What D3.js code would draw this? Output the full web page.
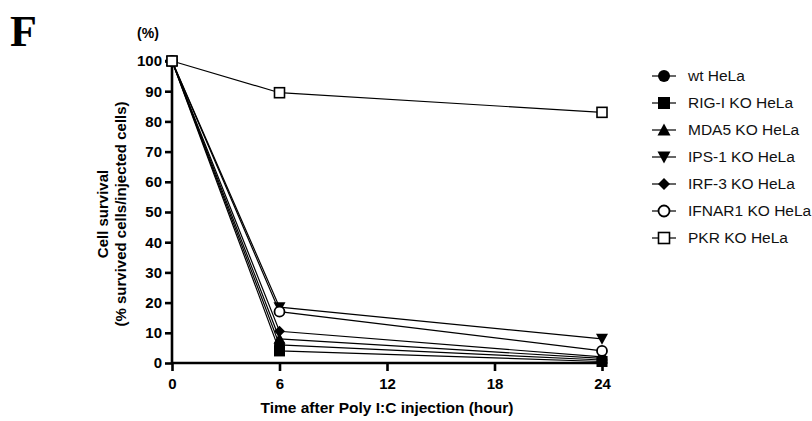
<!DOCTYPE html>
<html><head><meta charset="utf-8">
<script src="https://cdn.jsdelivr.net/npm/d3@7"></script>
<style>body{margin:0;background:#fff}svg{display:block}</style>
</head><body>
<svg id="c" width="812" height="421"></svg>
<script>
const hours = [0, 6, 24];
const seriesNames = ["wt HeLa","RIG-I KO HeLa","MDA5 KO HeLa","IPS-1 KO HeLa","IRF-3 KO HeLa","IFNAR1 KO HeLa","PKR KO HeLa"];
const wt     = [100, 6, 1];
const rigI   = [100, 4, 0.5];
const mda5   = [100, 8, 1.5];
const ips1   = [100, 18.5, 8];
const irf3   = [100, 10.5, 2];
const ifnar1 = [100, 17, 4];
const pkr    = [100, 89.5, 83];
const markers = ["circle","square","triangle","triangleDown","diamond","circleOpen","squareOpen"];
const xTicks = [0, 6, 12, 18, 24];
const yTicks = [0,10,20,30,40,50,60,70,80,90,100];

const allValues = [wt, rigI, mda5, ips1, irf3, ifnar1, pkr];
const svg = d3.select("#c");
const x = d3.scaleLinear().domain([0,24]).range([172,602]);
const y = d3.scaleLinear().domain([0,100]).range([363,61]);
const font = "Arial, 'Liberation Sans', sans-serif";

function drawMarker(g, type, cx, cy, s) {
  s = s || 5.5;
  if (type === "circle") g.append("circle").attr("cx",cx).attr("cy",cy).attr("r",s).attr("fill","#000");
  else if (type === "circleOpen") g.append("circle").attr("cx",cx).attr("cy",cy).attr("r",s-0.5).attr("fill","#fff").attr("stroke","#000").attr("stroke-width",1.8);
  else if (type === "square") g.append("rect").attr("x",cx-s).attr("y",cy-s).attr("width",2*s).attr("height",2*s).attr("fill","#000");
  else if (type === "squareOpen") g.append("rect").attr("x",cx-s+0.5).attr("y",cy-s+0.5).attr("width",2*s-1).attr("height",2*s-1).attr("fill","#fff").attr("stroke","#000").attr("stroke-width",1.6);
  else if (type === "triangle") g.append("path").attr("d",`M${cx},${cy-s-0.5}L${cx+s+0.5},${cy+s-0.5}L${cx-s-0.5},${cy+s-0.5}Z`).attr("fill","#000");
  else if (type === "triangleDown") g.append("path").attr("d",`M${cx},${cy+s+0.5}L${cx+s+0.5},${cy-s+0.5}L${cx-s-0.5},${cy-s+0.5}Z`).attr("fill","#000");
  else if (type === "diamond") g.append("path").attr("d",`M${cx},${cy-s}L${cx+s},${cy}L${cx},${cy+s}L${cx-s},${cy}Z`).attr("fill","#000");
}

// Axes
const yAxis = d3.axisLeft(y).tickValues(yTicks).tickSize(7).tickPadding(3);
const gy = svg.append("g").attr("transform","translate(172,0)").call(yAxis);
const xAxis = d3.axisBottom(x).tickValues(xTicks).tickSize(8).tickPadding(7);
const gx = svg.append("g").attr("transform","translate(0,363)").call(xAxis);
[gy,gx].forEach(g=>{
  g.select(".domain").attr("stroke","#000").attr("stroke-width",2.6);
  g.selectAll(".tick line").attr("stroke","#000").attr("stroke-width",2.6);
  g.selectAll(".tick text").attr("fill","#000").style("font-family",font).style("font-weight","bold").style("font-size","15px");
});
gy.select(".domain").attr("d","M-7,61H0V363");
gx.select(".domain").attr("d","M172,0H602");

// Lines and markers
const line = d3.line().x((d,i)=>x(hours[i])).y(d=>y(d));
const plot = svg.append("g");
allValues.forEach(vals=>{
  plot.append("path").datum(vals).attr("d",line).attr("fill","none").attr("stroke","#000").attr("stroke-width",1.2);
});
allValues.forEach((vals,k)=>{
  vals.forEach((v,i)=>drawMarker(plot, markers[k], x(hours[i]), y(v)));
});

// Labels
svg.append("text").attr("x",10).attr("y",46).text("F")
  .style("font-family","'Liberation Serif','Times New Roman',serif").style("font-weight","bold").style("font-size","44px");
svg.append("text").attr("x",148).attr("y",38).attr("text-anchor","middle").text("(%)")
  .style("font-family",font).style("font-weight","bold").style("font-size","14px");
const yl = svg.append("g").attr("transform","translate(113,214) rotate(-90)");
yl.append("text").attr("y",-5).attr("text-anchor","middle").text("Cell survival")
  .style("font-family",font).style("font-weight","bold").style("font-size","15px");
yl.append("text").attr("y",13).attr("text-anchor","middle").text("(% survived cells/injected cells)")
  .style("font-family",font).style("font-weight","bold").style("font-size","15px");
svg.append("text").attr("x",387).attr("y",413).attr("text-anchor","middle").text("Time after Poly I:C injection (hour)")
  .style("font-family",font).style("font-weight","bold").style("font-size","15.5px");

// Legend
const leg = svg.append("g");
seriesNames.forEach((n,k)=>{
  const cy = 76 + k*27;
  leg.append("line").attr("x1",652).attr("x2",676).attr("y1",cy).attr("y2",cy).attr("stroke","#000").attr("stroke-width",1.2);
  drawMarker(leg, markers[k], 664, cy, 6);
  leg.append("text").attr("x",688).attr("y",cy+5).text(n)
    .style("font-family",font).style("font-size","15.5px").attr("fill","#111");
});
</script>
</body></html>
